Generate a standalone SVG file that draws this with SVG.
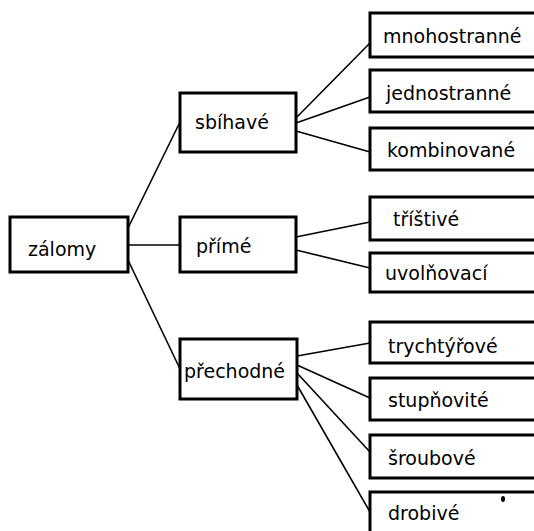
<svg xmlns="http://www.w3.org/2000/svg" width="534" height="531" viewBox="0 0 534 531">
<style>
.box{fill:#fff;stroke:#000;stroke-width:3}
.t{font-family:"DejaVu Sans",sans-serif;font-size:19px;fill:#000}
.c line{stroke:#000;stroke-width:1.6}
</style>
<rect width="534" height="531" fill="#fff"/>
<g class="c">
<line x1="128" y1="228" x2="180" y2="122"/>
<line x1="128" y1="245" x2="180" y2="245"/>
<line x1="128" y1="260" x2="181" y2="371"/>
<line x1="296" y1="118" x2="370" y2="43"/>
<line x1="296" y1="123" x2="370" y2="97"/>
<line x1="296" y1="131" x2="370" y2="152"/>
<line x1="296" y1="237" x2="370" y2="222"/>
<line x1="296" y1="250" x2="370" y2="268"/>
<line x1="297" y1="356" x2="370" y2="343"/>
<line x1="297" y1="365" x2="370" y2="398"/>
<line x1="297" y1="373" x2="370" y2="452"/>
<line x1="297" y1="385" x2="370" y2="512"/>
</g>
<g id="zalomy"><rect class="box" x="10" y="217" width="118" height="55"/><text class="t" x="28" y="256">zálomy</text></g>
<g id="sbihave"><rect class="box" x="180" y="93" width="116" height="59"/><text class="t" x="195" y="129">sbíhavé</text></g>
<g id="prime"><rect class="box" x="180" y="217" width="116" height="55"/><text class="t" x="196" y="253">přímé</text></g>
<g id="prechodne"><rect class="box" x="180" y="339" width="117" height="60"/><text class="t" x="184" y="378">přechodné</text></g>
<g id="mnohostranne"><rect class="box" x="370" y="13" width="175" height="44"/><text class="t" x="383" y="43">mnohostranné</text></g>
<g id="jednostranne"><rect class="box" x="370" y="70" width="175" height="42"/><text class="t" x="386" y="100">jednostranné</text></g>
<g id="kombinovane"><rect class="box" x="370" y="128" width="175" height="42"/><text class="t" x="387" y="157">kombinované</text></g>
<g id="tristive"><rect class="box" x="370" y="197" width="175" height="43"/><text class="t" x="393" y="226">tříštivé</text></g>
<g id="uvolnovaci"><rect class="box" x="370" y="253" width="175" height="39"/><text class="t" x="385" y="280">uvolňovací</text></g>
<g id="trychtyrove"><rect class="box" x="370" y="322" width="175" height="41"/><text class="t" x="388" y="353">trychtýřové</text></g>
<g id="stupnovite"><rect class="box" x="370" y="378" width="175" height="42"/><text class="t" x="388" y="407">stupňovité</text></g>
<g id="sroubove"><rect class="box" x="370" y="435" width="175" height="43"/><text class="t" x="388" y="465">šroubové</text></g>
<g id="drobive"><rect class="box" x="370" y="492" width="175" height="50"/><text class="t" x="388" y="520">drobivé</text></g>
<ellipse cx="503" cy="499" rx="2" ry="3" fill="#000"/>
</svg>
